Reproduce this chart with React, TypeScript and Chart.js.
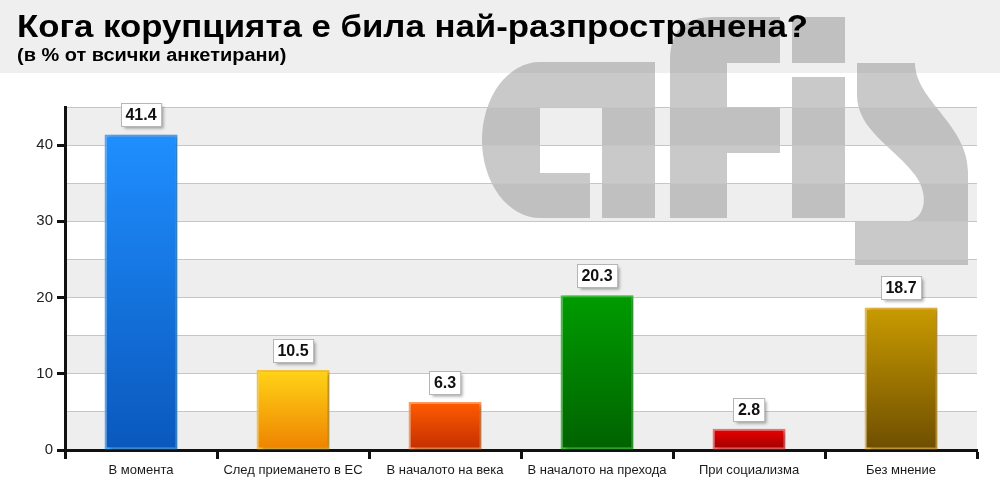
import React, { useEffect, useRef } from "react";
import { Chart, registerables } from "chart.js";

Chart.register(...registerables);

const TITLE = "Кога корупцията е била най-разпространена?";
const SUBTITLE = "(в % от всички анкетирани)";
const categories = [
  "В момента",
  "След приемането в ЕС",
  "В началото на века",
  "В началото на прехода",
  "При социализма",
  "Без мнение",
];
const values = [41.4, 10.5, 6.3, 20.3, 2.8, 18.7];
const topColors = ["#1f8fff", "#ffd418", "#ff5c00", "#009c00", "#ec0000", "#c99b00"];
const bottomColors = ["#0a58bc", "#ef8200", "#c42e00", "#006200", "#9c0000", "#6e4e00"];
const borderColors = ["#48aaff", "#f6c23c", "#ff9a5a", "#3cc43c", "#ff6a6a", "#eab846"];
const yMax = 45;
const yStep = 5;
const yLabelStep = 10;

const FONT = "'Liberation Sans', Arial, sans-serif";

function drawWatermark(ctx: CanvasRenderingContext2D) {
  ctx.save();
  ctx.fillStyle = "rgba(140,140,140,0.47)";
  // a
  ctx.beginPath();
  ctx.moveTo(602, 62);
  ctx.lineTo(540, 62);
  ctx.ellipse(540, 140, 58, 78, 0, -Math.PI / 2, Math.PI / 2, true);
  ctx.lineTo(590, 218);
  ctx.lineTo(590, 173);
  ctx.lineTo(540, 173);
  ctx.lineTo(540, 108);
  ctx.lineTo(602, 108);
  ctx.closePath();
  ctx.fill();
  ctx.fillRect(602, 62, 53, 156);
  // f
  ctx.beginPath();
  ctx.moveTo(670, 218);
  ctx.lineTo(670, 60);
  ctx.quadraticCurveTo(670, 17, 713, 17);
  ctx.lineTo(780, 17);
  ctx.lineTo(780, 63);
  ctx.lineTo(727, 63);
  ctx.lineTo(727, 107);
  ctx.lineTo(780, 107);
  ctx.lineTo(780, 153);
  ctx.lineTo(727, 153);
  ctx.lineTo(727, 218);
  ctx.closePath();
  ctx.fill();
  // i
  ctx.fillRect(792, 17, 53, 46);
  ctx.fillRect(792, 77, 53, 141);
  // s
  ctx.beginPath();
  ctx.moveTo(857, 63);
  ctx.lineTo(915, 63);
  ctx.bezierCurveTo(915, 100, 968, 125, 968, 172);
  ctx.lineTo(968, 265);
  ctx.lineTo(855, 265);
  ctx.lineTo(855, 222);
  ctx.lineTo(903, 222);
  ctx.bezierCurveTo(926, 222, 930, 195, 915, 175);
  ctx.bezierCurveTo(895, 148, 857, 130, 857, 95);
  ctx.closePath();
  ctx.fill();
  ctx.restore();
}

const backgroundPlugin = {
  id: "bgPlugin",
  beforeDraw(chart: any) {
    const ctx = chart.ctx as CanvasRenderingContext2D;
    const { left, right } = chart.chartArea;
    const y = chart.scales.y;
    ctx.save();
    ctx.fillStyle = "#ffffff";
    ctx.fillRect(0, 0, chart.width, chart.height);
    ctx.fillStyle = "#efefef";
    ctx.fillRect(0, 0, chart.width, 73);
    for (let v = 0; v < yMax; v += yStep) {
      if ((v / yStep) % 2 === 0) {
        const y0 = y.getPixelForValue(v);
        const y1 = y.getPixelForValue(v + yStep);
        ctx.fillStyle = "#eeeeee";
        ctx.fillRect(left, y1, right - left, y0 - y1);
      }
    }
    ctx.restore();
    drawWatermark(ctx);
  },
  beforeDatasetsDraw(chart: any) {
    const ctx = chart.ctx as CanvasRenderingContext2D;
    ctx.save();
    ctx.shadowColor = "rgba(0,0,0,0.35)";
    ctx.shadowOffsetX = 3;
    ctx.shadowOffsetY = 1;
    ctx.shadowBlur = 3;
  },
  afterDatasetsDraw(chart: any) {
    const ctx = chart.ctx as CanvasRenderingContext2D;
    ctx.restore();
    const meta = chart.getDatasetMeta(0);
    ctx.save();
    ctx.font = `bold 16px ${FONT}`;
    ctx.textAlign = "center";
    ctx.textBaseline = "middle";
    meta.data.forEach((bar: any, i: number) => {
      const text = values[i].toFixed(1);
      const w = ctx.measureText(text).width + 9;
      const h = 23;
      const x0 = Math.round(bar.x - w / 2) + 0.5;
      const y0 = Math.round(bar.y - 8 - h) + 0.5;
      ctx.save();
      ctx.shadowColor = "rgba(0,0,0,0.35)";
      ctx.shadowOffsetX = 2;
      ctx.shadowOffsetY = 2;
      ctx.shadowBlur = 3;
      ctx.fillStyle = "#ffffff";
      ctx.fillRect(x0, y0, w, h);
      ctx.restore();
      ctx.strokeStyle = "#b5b5b5";
      ctx.lineWidth = 1;
      ctx.strokeRect(x0, y0, w, h);
      ctx.fillStyle = "#111111";
      ctx.fillText(text, bar.x, y0 + h / 2 + 1);
    });
    ctx.restore();
  },
  afterDraw(chart: any) {
    const ctx = chart.ctx as CanvasRenderingContext2D;
    ctx.save();
    ctx.fillStyle = "#000000";
    ctx.textAlign = "left";
    ctx.textBaseline = "alphabetic";
    ctx.save();
    ctx.translate(17, 37);
    ctx.scale(1.087, 1);
    ctx.font = `bold 32px ${FONT}`;
    ctx.fillText(TITLE, 0, 0);
    ctx.restore();
    ctx.save();
    ctx.translate(17, 61);
    ctx.scale(1.14, 1);
    ctx.font = `bold 17.5px ${FONT}`;
    ctx.fillText(SUBTITLE, 0, 0);
    ctx.restore();
    ctx.restore();
  },
};

export default function App() {
  const ref = useRef<HTMLCanvasElement>(null);
  useEffect(() => {
    if (!ref.current) return;
    const chart = new Chart(ref.current, {
      type: "bar",
      data: {
        labels: categories,
        datasets: [
          {
            data: values,
            backgroundColor: (c: any) => {
              const i = c.dataIndex;
              const chart = c.chart;
              if (!chart.chartArea || !chart.scales.y) return topColors[i];
              const ys = chart.scales.y;
              const g = chart.ctx.createLinearGradient(0, ys.getPixelForValue(values[i]), 0, ys.getPixelForValue(0));
              g.addColorStop(0, topColors[i]);
              g.addColorStop(1, bottomColors[i]);
              return g;
            },
            borderColor: borderColors,
            borderWidth: 2,
            borderSkipped: false,
            barPercentage: 0.48,
            categoryPercentage: 1,
          },
        ],
      },
      options: {
        animation: false,
        responsive: false,
        devicePixelRatio: 1,
        layout: { padding: { left: 17, right: 23, top: 107, bottom: 0 } },
        plugins: {
          legend: { display: false },
          tooltip: { enabled: false },
          title: { display: false },
        },
        scales: {
          x: {
            afterFit: (s: any) => {
              s.height = 46;
            },
            grid: {
              drawOnChartArea: false,
              drawTicks: true,
              tickLength: 9,
              tickWidth: 3,
              tickColor: "#111111",
              offset: true,
            },
            border: { display: true, color: "#111111", width: 3 },
            ticks: {
              color: "#1a1a1a",
              font: { family: FONT, size: 13 },
              padding: 4,
              maxRotation: 0,
              autoSkip: false,
            },
          },
          y: {
            min: 0,
            max: yMax,
            afterFit: (s: any) => {
              s.width = 48;
            },
            grid: {
              color: (c: any) => (c.tick && c.tick.value === 0 ? "rgba(0,0,0,0)" : "#c6c6c6"),
              lineWidth: 1,
              drawTicks: true,
              tickLength: 8,
              tickWidth: 3,
              tickColor: (c: any) =>
                c.tick && c.tick.value % yLabelStep === 0 ? "#111111" : "rgba(0,0,0,0)",
            },
            border: { display: true, color: "#111111", width: 3 },
            ticks: {
              stepSize: yStep,
              color: "#222222",
              font: { family: FONT, size: 15 },
              padding: 4,
              callback: (v: any) => (Number(v) % yLabelStep === 0 ? String(v) : ""),
            },
          },
        },
      },
      plugins: [backgroundPlugin],
    });
    return () => chart.destroy();
  }, []);
  return (
    <div style={{ position: "absolute", left: 0, top: 0, width: 1000, height: 496, background: "#fff" }}>
      <canvas ref={ref} width={1000} height={496} style={{ display: "block" }} />
    </div>
  );
}
